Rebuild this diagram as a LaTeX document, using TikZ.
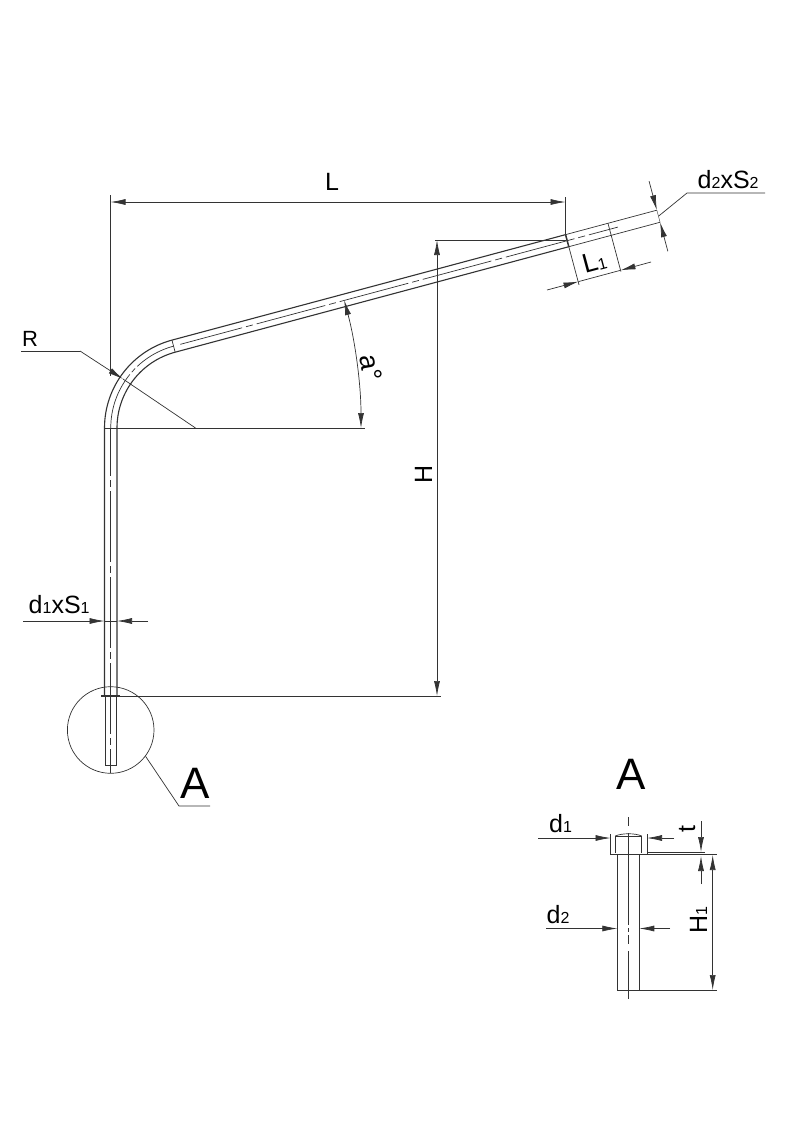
\documentclass[tikz,border=0pt]{standalone}
\usepackage{fontspec}
\setsansfont{Liberation Sans}
\usepackage{xcolor}
\usetikzlibrary{calc}
\usetikzlibrary{arrows.meta}
\definecolor{ink}{gray}{0.2}
\tikzset{>={Latex[length=15pt,width=6pt]}}
\tikzset{lbl/.style={inner sep=0pt,anchor=base west,font=\sffamily\fontsize{25}{25}\selectfont}}
\tikzset{biglbl/.style={inner sep=0pt,anchor=base west,font=\sffamily\fontsize{44}{44}\selectfont}}
\tikzset{thin line/.style={draw=ink,line width=0.7pt}}
\tikzset{pipe/.style={draw=ink,line width=1.1pt}}
\tikzset{axis/.style={draw=ink,line width=0.7pt,dash pattern=on 71pt off 4pt on 7pt off 4pt}}
\newcommand{\sm}[1]{{\fontsize{16}{16}\selectfont #1}}
\begin{document}
\begin{tikzpicture}[x=1pt,y=1pt]
	\path[use as bounding box,fill=white] (0,0) rectangle (789,-1128);
	\coordinate (bend) at (195.5,-428);
	\coordinate (outerstart) at (104.5,-428);
	\coordinate (innerstart) at (117,-428);
	\coordinate (outerbend) at ($(bend)+(105:91)$);
	\coordinate (innerbend) at ($(bend)+(105:78.5)$);
	\coordinate (outerend) at ($(outerbend)+(15:502)$);
	\coordinate (innerend) at ($(innerbend)+(15:502)$);
	\coordinate (outermark) at ($(outerbend)+(15:407.5)$);
	\coordinate (innermark) at ($(innerbend)+(15:407.5)$);
	\coordinate (outercut) at ($(outerbend)+(15:451.4)$);
	\coordinate (innercut) at ($(innerbend)+(15:451.4)$);
	\coordinate (axisbend) at ($(bend)+(105:84.75)$);
	\coordinate (outerfoot) at (104.5,-696);
	\coordinate (innerfoot) at (117,-696);
	\draw[pipe] (outerfoot) -- (outerstart) arc[start angle=180,end angle=105,radius=91pt] -- (outermark);
	\draw[pipe] (innerfoot) -- (innerstart) arc[start angle=180,end angle=105,radius=78.5pt] -- (innermark);
	\draw[thin line] (outermark) -- (outerend);
	\draw[thin line] (innermark) -- (innerend);
	\draw[thin line,line width=0.4pt] (outerend) -- (innerend);
	\draw[thin line] (outerbend) -- (innerbend);
	\draw[pipe,line width=1.5pt] (outermark) -- (innermark);
	\draw[axis,dash pattern=on 58pt off 3pt on 5pt off 3pt on 60pt off 3pt] (110.75,-428) arc[start angle=180,end angle=105,radius=84.75pt];
	\draw[axis,dash phase=7pt] ($(axisbend)+(15:7)$) -- ($(axisbend)+(15:460)$);
	\draw[axis,dash phase=23pt] (110.75,-428) -- (110.75,-773);
	\draw[thin line] (105.5,-696) -- (105.5,-765) -- (116,-765) -- (116,-696);
	\draw[line width=1.8pt,draw=ink] (101,-696) -- (120,-696);
	\node[draw=ink,line width=0.7pt,circle,minimum size=86.6pt,inner sep=0pt] (zone) at (110.7,-730) {};
	\coordinate (zoneknee) at (179,-806);
	\draw[thin line] (zone.-37) -- (zoneknee) -- (210,-806);
	\node[biglbl] (zonename) at (180.5,-798) {A};

	\coordinate (dimL) at (110.5,-202);
	\coordinate (dimLend) at (565.5,-202);
	\draw[thin line] (110.5,-195) -- (110.5,-376);
	\draw[thin line] (565.5,-197) -- (outermark);
	\draw[thin line,<->] (dimL) -- (dimLend);
	\node[lbl] (labL) at (325,-190) {L};

	\draw[thin line] (435,-240) -- (565.5,-240);
	\draw[thin line] (innerstart) -- (365,-428);
	\draw[thin line] (outerstart) -- (innerstart);
	\draw[thin line] (120,-696) -- (441,-696);
	\draw[thin line,<->] (437,-240) -- (437,-696);
	\node[lbl,anchor=base,rotate=90] (labH) at (432,-474) {H};

	\coordinate (lead) at (80,-351);
	\coordinate (leadtip) at (123,-379);
	\draw[thin line] (21,-351) -- (lead);
	\draw[thin line,->] (lead) -- (leadtip);
	\draw[thin line] (leadtip) -- (bend);
	\node[lbl,font=\sffamily\fontsize{22}{22}\selectfont] (labR) at (22,-346.5) {R};

	\draw[thin line,<->] (361,-428) arc[start angle=0,end angle=15,radius=494pt];
	\node[lbl,anchor=center,rotate=-80,font=\sffamily\fontsize{27}{27}\selectfont] (laba) at (371,-368) {a\textdegree};

	\coordinate (capup) at ($(outerend)+(105:30)$);
	\coordinate (capdown) at ($(innerend)+(-75:30)$);
	\draw[thin line,->] (capup) -- (outerend);
	\draw[thin line,->] (capdown) -- (innerend);
	\coordinate (capmid) at ($(outerend)!0.5!(innerend)$);
	\draw[thin line] (capmid) -- (687,-193) -- (765,-193);
	\node[lbl] (labdtwo) at (697.5,-188.5) {d\sm{2}xS\sm{2}};

	\draw[thin line] (innermark) -- ($(outermark)+(-75:52)$);
	\draw[thin line] (outercut) -- ($(outercut)+(-75:50)$);
	\coordinate (lenA) at (578.5,-281.6);
	\coordinate (lenB) at (620.5,-270.3);
	\draw[thin line,->] (547,-290) -- (lenA);
	\draw[thin line,->] (651,-262) -- (lenB);
	\draw[thin line] (lenA) -- (lenB);
	\node[lbl,rotate=15,font=\sffamily\fontsize{27}{27}\selectfont] (labLone) at (585,-274) {L\sm{1}};

	\draw[thin line,->] (23,-621) -- (104.5,-621);
	\draw[thin line,->] (148,-621) -- (117,-621);
	\draw[thin line] (104.5,-621) -- (117,-621);
	\node[lbl] (labdone) at (28.5,-613) {d\sm{1}xS\sm{1}};

	\node[biglbl] (detailname) at (616.5,-789) {A};
	\draw[axis,dash pattern=on 9pt off 7pt on 92pt off 3pt on 4pt off 3pt] (628,-817) -- (628,-999);
	\draw[pipe] (617.3,-854) -- (617.3,-990.5) -- (639.3,-990.5) -- (639.3,-854);
	\draw[thin line] (610.5,-834) -- (610.5,-854) -- (647,-854) -- (647,-834);
	\draw[thin line] (615.3,-853) -- (615.3,-836) -- (641.7,-836) -- (641.7,-853);
	\draw[thin line] (615.3,-836) .. controls (622,-833) and (635,-833) .. (641.7,-836);
	\draw[thin line] (647,-854) -- (717,-854);
	\draw[thin line,line width=1pt] (647,-852) -- (705,-852);
	\draw[thin line] (639.3,-990.5) -- (717,-990.5);

	\draw[thin line,->] (538,-838) -- (610.5,-838);
	\draw[thin line,->] (674,-838) -- (647,-838);
	\node[lbl] (labheadd) at (549,-832) {d\sm{1}};
	\draw[thin line,->] (546,-928.5) -- (617.3,-928.5);
	\draw[thin line,->] (670,-928.5) -- (639.3,-928.5);
	\node[lbl] (labtubed) at (546.5,-923) {d\sm{2}};

	\draw[thin line,->] (701,-821) -- (701,-852);
	\draw[thin line,->] (701,-884) -- (701,-856);
	\node[lbl,anchor=base,rotate=90] (labt) at (695,-829) {t};
	\draw[thin line,<->] (712.7,-855) -- (712.7,-990);
	\node[lbl,anchor=base,rotate=90] (labHone) at (707,-920) {H\sm{1}};
\end{tikzpicture}
\end{document}
